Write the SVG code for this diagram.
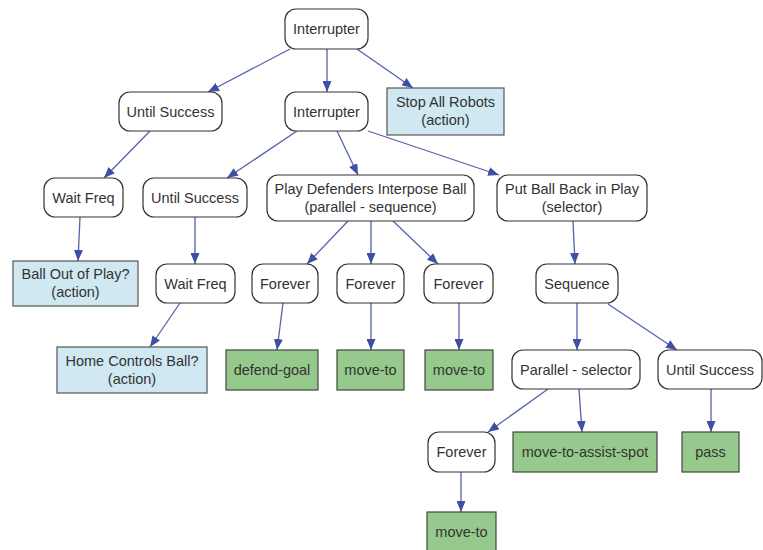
<svg xmlns="http://www.w3.org/2000/svg" width="763" height="550" viewBox="0 0 763 550">
<defs>
<marker id="ah" markerWidth="11" markerHeight="9" refX="11" refY="4.5" orient="auto" markerUnits="userSpaceOnUse">
<path d="M0,0 L11,4.5 L0,9 Z" fill="#3f50a4"/>
</marker>
</defs>
<style>
.n{fill:#fff;stroke:#333;stroke-width:1.2}
.a{fill:#cfe8f2;stroke:#555;stroke-width:1.2}
.g{fill:#96c98c;stroke:#444;stroke-width:1.2}
text{font-family:"Liberation Sans",Arial,sans-serif;font-size:14.5px;fill:#333;text-anchor:middle}
.e line{stroke:#5563a8;stroke-width:1.3;marker-end:url(#ah)}
</style>
<rect width="763" height="550" fill="#fff"/>
<g class="e" id="connectors">
<line x1="290" y1="49" x2="208" y2="92"/>
<line x1="327" y1="49" x2="327" y2="92"/>
<line x1="357" y1="49" x2="413" y2="88"/>
<line x1="150" y1="131" x2="104" y2="178"/>
<line x1="297" y1="131" x2="227" y2="178"/>
<line x1="337" y1="131" x2="358" y2="175"/>
<line x1="368" y1="131" x2="499" y2="175"/>
<line x1="80" y1="217" x2="78" y2="261"/>
<line x1="195" y1="217" x2="195" y2="264"/>
<line x1="180" y1="303" x2="150" y2="347"/>
<line x1="348" y1="221" x2="307" y2="264"/>
<line x1="371" y1="221" x2="371" y2="264"/>
<line x1="393" y1="221" x2="438" y2="264"/>
<line x1="573" y1="221" x2="575" y2="264"/>
<line x1="283" y1="303" x2="277" y2="350"/>
<line x1="371" y1="303" x2="371" y2="350"/>
<line x1="459" y1="303" x2="459" y2="350"/>
<line x1="577" y1="303" x2="577" y2="350"/>
<line x1="608" y1="304" x2="677" y2="350"/>
<line x1="548" y1="389" x2="488" y2="432"/>
<line x1="579" y1="389" x2="582" y2="432"/>
<line x1="711" y1="389" x2="711" y2="432"/>
<line x1="461" y1="472" x2="461" y2="512"/>
</g>
<g id="n1"><rect class="n" x="285" y="9" width="83" height="40" rx="11"/><text x="326.5" y="34">Interrupter</text></g>
<g id="n2"><rect class="n" x="119" y="92" width="103" height="39" rx="11"/><text x="170.5" y="116.5">Until Success</text></g>
<g id="n3"><rect class="n" x="285" y="92" width="83" height="39" rx="11"/><text x="326.5" y="116.5">Interrupter</text></g>
<g id="n4"><rect class="a" x="387" y="88" width="117" height="47"/><text x="445.5" y="107">Stop All Robots</text><text x="445.5" y="125">(action)</text></g>
<g id="n5"><rect class="n" x="44" y="178" width="79" height="39" rx="11"/><text x="83.5" y="202.5">Wait Freq</text></g>
<g id="n6"><rect class="n" x="143" y="178" width="104" height="39" rx="11"/><text x="195" y="202.5">Until Success</text></g>
<g id="n7"><rect class="n" x="267" y="175" width="207" height="46" rx="11"/><text x="370.5" y="194">Play Defenders Interpose Ball</text><text x="370.5" y="212">(parallel - sequence)</text></g>
<g id="n8"><rect class="n" x="497" y="175" width="150" height="46" rx="11"/><text x="572" y="194">Put Ball Back in Play</text><text x="572" y="212">(selector)</text></g>
<g id="n9"><rect class="a" x="13" y="261" width="125" height="45"/><text x="75.5" y="279">Ball Out of Play?</text><text x="75.5" y="297">(action)</text></g>
<g id="n10"><rect class="n" x="156" y="264" width="79" height="39" rx="11"/><text x="195.5" y="288.5">Wait Freq</text></g>
<g id="n11"><rect class="n" x="252" y="264" width="66" height="39" rx="11"/><text x="285" y="288.5">Forever</text></g>
<g id="n12"><rect class="n" x="337" y="264" width="67" height="39" rx="11"/><text x="370.5" y="288.5">Forever</text></g>
<g id="n13"><rect class="n" x="424" y="264" width="69" height="39" rx="11"/><text x="458.5" y="288.5">Forever</text></g>
<g id="n14"><rect class="n" x="536" y="264" width="82" height="39" rx="11"/><text x="577" y="288.5">Sequence</text></g>
<g id="n15"><rect class="a" x="57" y="347" width="150" height="46"/><text x="132" y="366">Home Controls Ball?</text><text x="132" y="384">(action)</text></g>
<g id="n16"><rect class="g" x="226" y="350" width="92" height="40"/><text x="272" y="375">defend-goal</text></g>
<g id="n17"><rect class="g" x="337" y="350" width="67" height="40"/><text x="370.5" y="375">move-to</text></g>
<g id="n18"><rect class="g" x="425" y="350" width="68" height="40"/><text x="459" y="375">move-to</text></g>
<g id="n19"><rect class="n" x="512" y="350" width="128" height="39" rx="11"/><text x="576" y="374.5">Parallel - selector</text></g>
<g id="n20"><rect class="n" x="658" y="350" width="104" height="39" rx="11"/><text x="710" y="374.5">Until Success</text></g>
<g id="n21"><rect class="n" x="428" y="432" width="67" height="40" rx="11"/><text x="461.5" y="457">Forever</text></g>
<g id="n22"><rect class="g" x="513" y="432" width="144" height="40"/><text x="585" y="457">move-to-assist-spot</text></g>
<g id="n23"><rect class="g" x="682" y="432" width="57" height="40"/><text x="710.5" y="457">pass</text></g>
<g id="n24"><rect class="g" x="427" y="512" width="69" height="40"/><text x="461.5" y="537">move-to</text></g>
</svg>
